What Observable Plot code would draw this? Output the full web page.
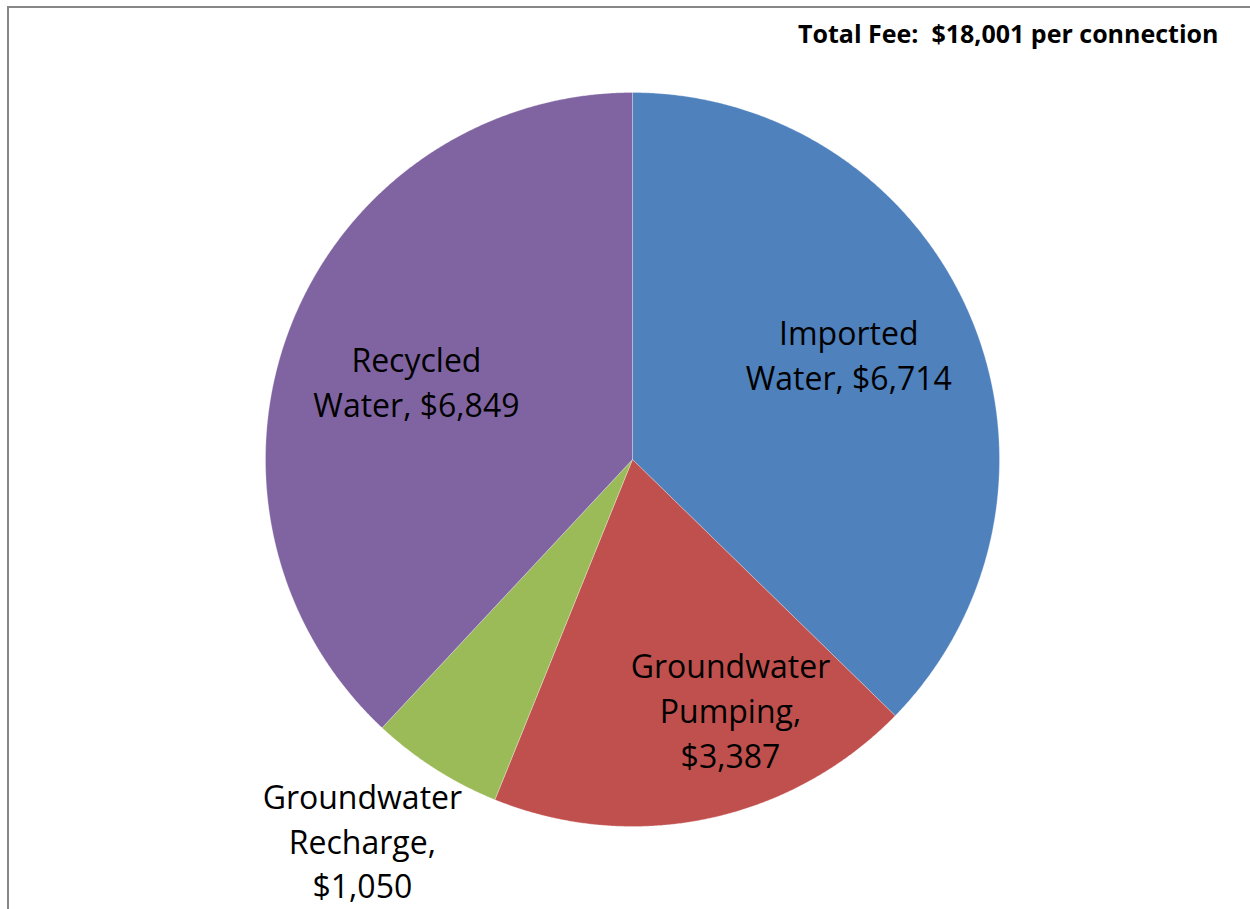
<!DOCTYPE html>
<html>
<head>
<meta charset="utf-8">
<script src="https://cdn.jsdelivr.net/npm/d3@7"></script>
<script src="https://cdn.jsdelivr.net/npm/@observablehq/plot@0.6"></script>
<style>
  html, body { margin: 0; padding: 0; background: #fff; }
  #wrap { position: relative; width: 1250px; height: 909px; overflow: hidden; }
  #border { position: absolute; left: 7px; top: 6px; right: -10px; bottom: -10px;
            border-left: 2px solid #878787; border-top: 2px solid #878787; pointer-events: none; }
  svg { display: block; }
</style>
</head>
<body>
<div id="wrap"><div id="chart"></div><div id="border"></div></div>
<script>
// ---- data ----
const categories = ["Imported Water", "Groundwater Pumping", "Groundwater Recharge", "Recycled Water"];
const values = [6714, 3387, 1050, 6849];
const sliceLabels = ["Imported\nWater, $6,714", "Groundwater\nPumping,\n$3,387", "Groundwater\nRecharge,\n$1,050", "Recycled\nWater, $6,849"];
const colors = ["#4F81BD", "#C0504D", "#9BBB59", "#8064A2"];
const totalLabel = "Total Fee:\u00A0\u00A0$18,001 per connection";

// ---- layout (label placement: angle offset in degrees from slice middle, radius factor) ----
const labelLayout = [[-3.4, 0.657], [-9.6, 0.73], [2.9, 1.27], [-1.4, 0.627]];
const cx = 632, cy = 459, R = 367;

const rows = categories.map((c, i) => ({category: c, value: values[i], label: sliceLabels[i]}));
const arcs = d3.pie().sort(null).value(d => d.value)(rows);

// polygon points for each slice
const pts = [];
arcs.forEach(a => {
  const c = a.data.category;
  pts.push({category: c, x: 0, y: 0});
  const n = Math.max(2, Math.ceil((a.endAngle - a.startAngle) / (Math.PI / 720)));
  for (let k = 0; k <= n; k++) {
    const t = a.startAngle + (a.endAngle - a.startAngle) * k / n;
    pts.push({category: c, x: Math.sin(t), y: Math.cos(t)});
  }
  pts.push({category: c, x: 0, y: 0});
});

const labelPts = arcs.map((a, i) => {
  const mid = (a.startAngle + a.endAngle) / 2 + labelLayout[i][0] * Math.PI / 180;
  const r = labelLayout[i][1];
  return {label: a.data.label, x: r * Math.sin(mid), y: r * Math.cos(mid)};
});

const chart = Plot.plot({
  width: 1250,
  height: 909,
  margin: 0,
  style: {fontFamily: "'Open Sans', sans-serif", background: "white"},
  x: {domain: [-1, 1], range: [cx - R, cx + R], axis: null},
  y: {domain: [-1, 1], range: [cy + R, cy - R], axis: null},
  color: {domain: categories, range: colors},
  marks: [
    Plot.line(pts, {x: "x", y: "y", z: "category", fill: "category", stroke: "white", strokeOpacity: 0.35, strokeWidth: 0.8, curve: "linear"}),
    Plot.text(labelPts, {x: "x", y: "y", text: "label", fontSize: 32, lineHeight: 1.4, fill: "black", lineAnchor: "middle"}),
    Plot.text([totalLabel], {frameAnchor: "top-right", text: d => d, dx: -32, dy: 25, fontSize: 25, fontWeight: "bold", fill: "black", textAnchor: "end", lineAnchor: "top"})
  ]
});
document.getElementById("chart").appendChild(chart);
</script>
</body>
</html>
